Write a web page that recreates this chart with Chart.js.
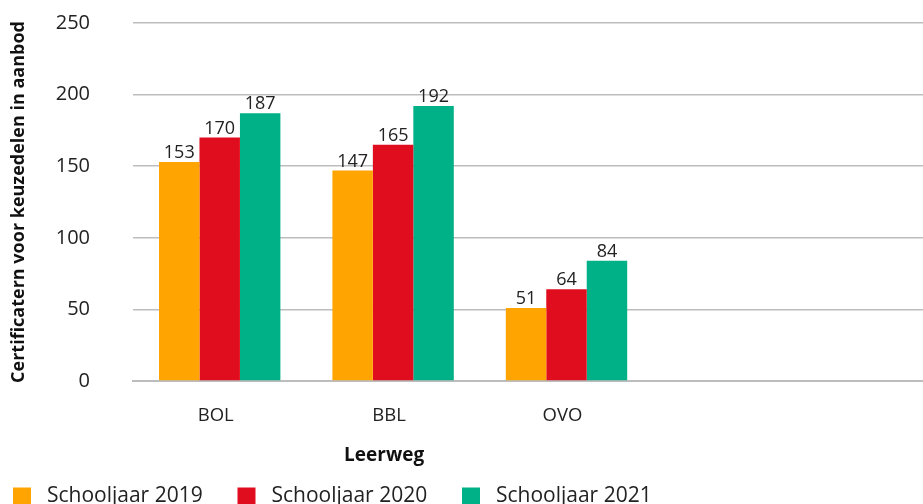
<!DOCTYPE html>
<html>
<head>
<meta charset="utf-8">
<script src="https://cdn.jsdelivr.net/npm/chart.js@4"></script>
<style>
  html, body { margin: 0; padding: 0; background: #fff; overflow: hidden; }
  #wrap { width: 1000px; height: 549px; position: relative; margin-top: -32px; }
</style>
</head>
<body>
<div id="wrap"><canvas id="certChart"></canvas></div>
<script>
// categorieen (twee lege plekken rechts, zoals in het origineel)
const leerwegen = ['BOL', 'BBL', 'OVO', '', ''];
const jaar2019 = [153, 147, 51, null, null];
const jaar2020 = [170, 165, 64, null, null];
const jaar2021 = [187, 192, 84, null, null];
const yTicks = [0, 50, 100, 150, 200, 250];
const xTitel = 'Leerweg';

const fontFam = "'Open Sans', 'Noto Sans', sans-serif";

// waarden boven de staven + as-titel
const waardeLabels = {
    id: 'waardeLabels',
    afterDatasetsDraw(chart) {
        const ctx = chart.ctx;
        ctx.save();
        ctx.font = '18px ' + fontFam;
        ctx.fillStyle = '#222';
        ctx.textAlign = 'center';
        ctx.textBaseline = 'bottom';
        chart.data.datasets.forEach((ds, i) => {
            chart.getDatasetMeta(i).data.forEach((bar, j) => {
                if (ds.data[j] == null) return;
                ctx.fillText(ds.data[j], bar.x, bar.y);
            });
        });
        // as-titel gecentreerd onder de gevulde categorieen
        const xs = chart.scales.x;
        const midden = (xs.getPixelForValue(0) + xs.getPixelForValue(2)) / 2;
        ctx.font = 'bold 19px ' + fontFam;
        ctx.fillStyle = '#111';
        ctx.textBaseline = 'middle';
        ctx.fillText(xTitel, midden - 9, xs.top + 75);
        ctx.restore();
    }
};

const ctx = document.getElementById('certChart').getContext('2d');
const chart = new Chart(ctx, {
    type: 'bar',
    data: {
        labels: leerwegen,
        datasets: [
            { label: 'Schooljaar 2019', data: jaar2019, backgroundColor: '#FFA400' },
            { label: 'Schooljaar 2020', data: jaar2020, backgroundColor: '#E00D1E' },
            { label: 'Schooljaar 2021', data: jaar2021, backgroundColor: '#00B086' }
        ]
    },
    options: {
        responsive: true,
        maintainAspectRatio: false,
        animation: false,
        layout: { padding: { left: 0, top: 5, right: 0, bottom: 0 } },
        datasets: { bar: { categoryPercentage: 0.70, barPercentage: 1.0 } },
        scales: {
            y: {
                min: 0,
                max: 250,
                afterBuildTicks: (s) => { s.ticks = yTicks.map(v => ({ value: v })); },
                grid: { color: '#bdbdbd', lineWidth: 1.5, drawTicks: false },
                border: { display: false },
                ticks: { font: { family: fontFam, size: 20 }, color: '#222', padding: 43 },
                title: {
                    display: true,
                    text: 'Certificatern voor keuzedelen in aanbod',
                    font: { family: fontFam, size: 18, weight: 'bold' },
                    color: '#111',
                    padding: { top: 8, bottom: 0 }
                },
                afterFit: (s) => { s.width = 133; }
            },
            x: {
                grid: { display: false, drawTicks: false },
                border: { display: true, color: '#bdbdbd', width: 2 },
                ticks: { font: { family: fontFam, size: 18.5 }, color: '#222', padding: 24, labelOffset: -4 },
                afterFit: (s) => { s.height = 92; }
            }
        },
        plugins: {
            legend: {
                position: 'bottom',
                align: 'start',
                labels: {
                    font: { family: fontFam, size: 21 },
                    color: '#222',
                    boxWidth: 18,
                    boxHeight: 18,
                    padding: 13,
                    generateLabels: (c) => Chart.defaults.plugins.legend.labels.generateLabels(c)
                        .map(l => Object.assign(l, { text: ' ' + l.text + '    ' }))
                }
            },
            tooltip: { enabled: false }
        }
    },
    plugins: [waardeLabels]
});
</script>
</body>
</html>
